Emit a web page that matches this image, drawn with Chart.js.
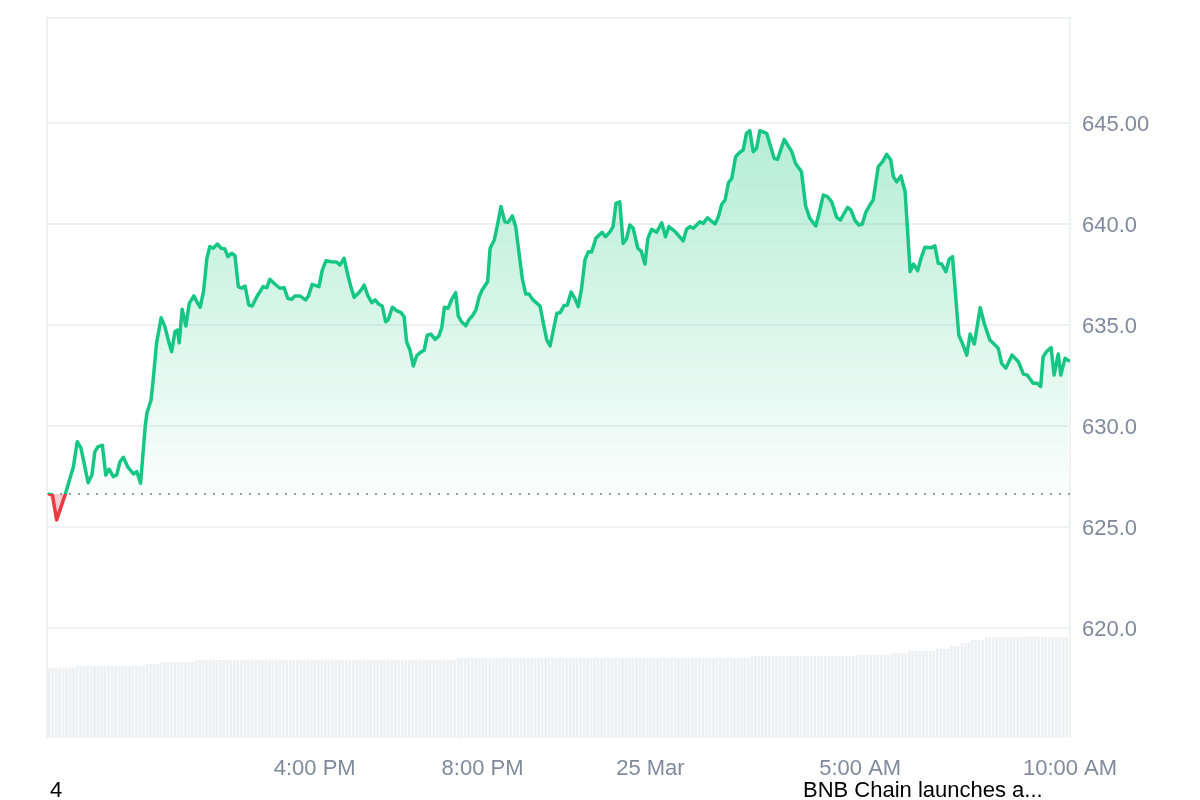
<!DOCTYPE html>
<html>
<head>
<meta charset="utf-8">
<title>BNB price 24h</title>
<script src="https://cdn.jsdelivr.net/npm/chart.js@4.4.1/dist/chart.umd.min.js"></script>
<style>
  html, body { margin: 0; padding: 0; background: #fff; }
  #wrap { position: relative; width: 1200px; height: 800px; }
  #priceChart { display: block; }
  .note { position: absolute; top: 779px; font: 22px/22px "Liberation Sans", Arial, sans-serif; color: #000; white-space: nowrap; }
</style>
</head>
<body>
<div id="wrap">
  <canvas id="priceChart" width="1200" height="800"></canvas>
  <div class="note" style="left:50px">4</div>
  <div class="note" style="left:803px">BNB Chain launches a...</div>
</div>
<script>
'use strict';

// hours after 00:00 on 24 Mar
var times = [
  9.67, 9.75, 9.85, 10.05, 10.25, 10.34, 10.43, 10.60, 10.69, 10.76, 10.84, 10.94,
  11.02, 11.10, 11.20, 11.28, 11.36, 11.44, 11.54, 11.68, 11.76, 11.85, 11.96, 12.00,
  12.10, 12.15, 12.23, 12.34, 12.43, 12.51, 12.59, 12.67, 12.73, 12.77, 12.84, 12.93,
  13.01, 13.12, 13.19, 13.27, 13.35, 13.43, 13.50, 13.58, 13.68, 13.77, 13.86, 13.93,
  14.02, 14.10, 14.18, 14.26, 14.34, 14.43, 14.51, 14.62, 14.77, 14.86, 14.93, 15.05,
  15.17, 15.27, 15.36, 15.45, 15.53, 15.65, 15.78, 15.85, 15.94, 16.10, 16.18, 16.27,
  16.39, 16.52, 16.60, 16.70, 16.78, 16.86, 16.94, 17.04, 17.12, 17.18, 17.26, 17.36,
  17.44, 17.52, 17.61, 17.69, 17.75, 17.85, 17.95, 18.06, 18.13, 18.19, 18.27, 18.35,
  18.43, 18.51, 18.61, 18.68, 18.77, 18.87, 18.96, 19.03, 19.09, 19.18, 19.26, 19.36,
  19.42, 19.50, 19.60, 19.68, 19.76, 19.84, 19.92, 19.99, 20.12, 20.18, 20.28, 20.37,
  20.44, 20.53, 20.61, 20.71, 20.79, 20.87, 20.95, 21.03, 21.11, 21.19, 21.37, 21.45,
  21.53, 21.61, 21.77, 21.85, 21.94, 22.02, 22.11, 22.20, 22.28, 22.36, 22.44, 22.52,
  22.60, 22.70, 22.85, 22.93, 23.04, 23.11, 23.18, 23.27, 23.35, 23.43, 23.51, 23.59,
  23.70, 23.78, 23.87, 23.94, 24.03, 24.15, 24.27, 24.36, 24.44, 24.59, 24.78, 24.86,
  24.94, 25.02, 25.18, 25.26, 25.36, 25.54, 25.62, 25.70, 25.78, 25.86, 25.94, 26.03,
  26.13, 26.21, 26.29, 26.37, 26.45, 26.53, 26.61, 26.77, 26.95, 27.03, 27.19, 27.37,
  27.46, 27.60, 27.70, 27.80, 27.94, 28.02, 28.12, 28.22, 28.32, 28.44, 28.53, 28.70,
  28.78, 28.88, 28.97, 29.05, 29.13, 29.23, 29.31, 29.43, 29.53, 29.63, 29.73, 29.79,
  29.87, 29.97, 30.07, 30.19, 30.27, 30.37, 30.45, 30.54, 30.70, 30.78, 30.86, 30.94,
  31.04, 31.12, 31.20, 31.35, 31.43, 31.54, 31.62, 31.72, 31.86, 31.96, 32.09, 32.19,
  32.29, 32.37, 32.47, 32.62, 32.77, 32.89, 32.98, 33.12, 33.22, 33.30, 33.36, 33.44,
  33.55, 33.62, 33.72, 33.78, 33.88, 33.97
];

var prices = [
  626.63, 626.57, 625.35, 626.58, 627.99, 629.22, 628.90, 627.19, 627.57, 628.73, 628.98, 629.04,
  627.57, 627.86, 627.49, 627.57, 628.23, 628.45, 627.99, 627.62, 627.74, 627.16, 629.97, 630.63,
  631.29, 632.28, 634.09, 635.36, 634.92, 634.26, 633.68, 634.67, 634.75, 634.12, 635.78, 634.95,
  636.07, 636.44, 636.15, 635.88, 636.65, 638.30, 638.88, 638.80, 639.01, 638.80, 638.76, 638.38,
  638.55, 638.43, 636.90, 636.82, 636.93, 635.99, 635.94, 636.40, 636.90, 636.85, 637.26, 637.03,
  636.82, 636.85, 636.32, 636.27, 636.44, 636.44, 636.24, 636.44, 637.01, 636.90, 637.72, 638.18,
  638.13, 638.12, 637.97, 638.30, 637.56, 636.90, 636.37, 636.57, 636.77, 636.98, 636.48, 636.10,
  636.24, 636.04, 635.94, 635.16, 635.25, 635.88, 635.71, 635.61, 635.41, 634.17, 633.76, 632.97,
  633.48, 633.63, 633.76, 634.50, 634.55, 634.29, 634.46, 634.89, 635.88, 635.83, 636.24, 636.60,
  635.45, 635.16, 634.96, 635.28, 635.46, 635.74, 636.40, 636.73, 637.14, 638.80, 639.21, 640.11,
  640.86, 640.11, 640.08, 640.40, 639.87, 638.55, 637.26, 636.53, 636.53, 636.27, 635.94, 635.08,
  634.26, 633.96, 635.58, 635.61, 635.96, 635.98, 636.63, 636.32, 635.91, 636.82, 638.22, 638.63,
  638.61, 639.29, 639.59, 639.37, 639.62, 639.87, 641.02, 641.10, 639.04, 639.26, 639.95, 639.79,
  638.80, 638.66, 638.02, 639.29, 639.74, 639.59, 640.06, 639.37, 639.87, 639.62, 639.16, 639.74,
  639.87, 639.79, 640.11, 640.03, 640.31, 640.00, 640.36, 640.97, 641.19, 642.04, 642.26, 643.33,
  643.55, 643.66, 644.49, 644.62, 643.58, 643.75, 644.62, 644.49, 643.25, 643.20, 644.19, 643.58,
  643.00, 642.59, 640.89, 640.28, 639.90, 640.53, 641.43, 641.35, 641.10, 640.33, 640.20, 640.83,
  640.69, 640.16, 639.95, 640.00, 640.56, 640.94, 641.19, 642.84, 643.08, 643.45, 643.17, 642.34,
  642.09, 642.38, 641.60, 637.64, 638.02, 637.69, 638.30, 638.85, 638.83, 638.92, 638.05, 638.02,
  637.64, 638.25, 638.38, 634.50, 634.12, 633.51, 634.55, 634.06, 635.86, 635.05, 634.26, 634.06,
  633.85, 633.10, 632.86, 633.51, 633.18, 632.57, 632.52, 632.11, 632.11, 631.95, 633.43, 633.68,
  633.88, 632.52, 633.56, 632.52, 633.35, 633.23
];

// 24h volume (billion USD), one bar every 5 minutes
var volStart = 9.67;
var volStep = 1 / 12;
var volumes = [
  0.70, 0.70, 0.70, 0.70, 0.70, 0.70, 0.70, 0.70, 0.72, 0.72, 0.72, 0.72,
  0.72, 0.72, 0.72, 0.72, 0.72, 0.72, 0.72, 0.72, 0.72, 0.72, 0.72, 0.72,
  0.72, 0.72, 0.72, 0.72, 0.74, 0.74, 0.74, 0.74, 0.76, 0.76, 0.76, 0.76,
  0.76, 0.76, 0.76, 0.76, 0.76, 0.76, 0.78, 0.78, 0.78, 0.78, 0.78, 0.78,
  0.78, 0.78, 0.78, 0.78, 0.78, 0.78, 0.78, 0.78, 0.78, 0.78, 0.78, 0.78,
  0.78, 0.78, 0.78, 0.78, 0.78, 0.78, 0.78, 0.78, 0.78, 0.78, 0.78, 0.78,
  0.78, 0.78, 0.78, 0.78, 0.78, 0.78, 0.78, 0.78, 0.78, 0.78, 0.78, 0.78,
  0.78, 0.78, 0.78, 0.78, 0.78, 0.78, 0.78, 0.78, 0.78, 0.78, 0.78, 0.78,
  0.78, 0.78, 0.78, 0.78, 0.78, 0.78, 0.78, 0.78, 0.78, 0.78, 0.78, 0.78,
  0.78, 0.78, 0.78, 0.78, 0.78, 0.78, 0.78, 0.78, 0.78, 0.80, 0.80, 0.80,
  0.80, 0.80, 0.80, 0.80, 0.80, 0.80, 0.80, 0.80, 0.80, 0.80, 0.80, 0.80,
  0.80, 0.80, 0.80, 0.80, 0.80, 0.80, 0.80, 0.80, 0.80, 0.80, 0.80, 0.80,
  0.80, 0.80, 0.80, 0.80, 0.80, 0.80, 0.80, 0.80, 0.80, 0.80, 0.80, 0.80,
  0.80, 0.80, 0.80, 0.80, 0.80, 0.80, 0.80, 0.80, 0.80, 0.80, 0.80, 0.80,
  0.80, 0.80, 0.80, 0.80, 0.80, 0.80, 0.80, 0.80, 0.80, 0.80, 0.80, 0.80,
  0.80, 0.80, 0.80, 0.80, 0.80, 0.80, 0.80, 0.80, 0.80, 0.80, 0.80, 0.80,
  0.80, 0.80, 0.80, 0.80, 0.80, 0.80, 0.80, 0.80, 0.80, 0.82, 0.82, 0.82,
  0.82, 0.82, 0.82, 0.82, 0.82, 0.82, 0.82, 0.82, 0.82, 0.82, 0.82, 0.82,
  0.82, 0.82, 0.82, 0.82, 0.82, 0.82, 0.82, 0.82, 0.82, 0.82, 0.82, 0.82,
  0.82, 0.82, 0.82, 0.83, 0.83, 0.83, 0.83, 0.83, 0.83, 0.83, 0.83, 0.83,
  0.83, 0.85, 0.85, 0.85, 0.85, 0.85, 0.87, 0.87, 0.87, 0.87, 0.87, 0.87,
  0.87, 0.87, 0.89, 0.89, 0.89, 0.89, 0.92, 0.92, 0.92, 0.95, 0.95, 0.95,
  0.98, 0.98, 0.98, 0.98, 1.01, 1.01, 1.01, 1.01, 1.01, 1.01, 1.01, 1.01,
  1.01, 1.01, 1.01, 1.01, 1.01, 1.01, 1.01, 1.01, 1.01, 1.01, 1.01, 1.01,
  1.01, 1.01, 1.01, 1.01
];

var xTickValues = [16, 20, 24, 29, 34];
var xTickLabels = ['4:00 PM', '8:00 PM', '25 Mar', '5:00 AM', '10:00 AM'];
var yTickValues = [620, 625, 630, 635, 640, 645];
var yTickLabels = ['620.0', '625.0', '630.0', '635.0', '640.0', '645.00'];

var GREEN = '#16c784';
var RED = '#ea3943';
var GRID = '#eff1f4';
var TEXT = '#808a9d';
var FONT = { family: '"Liberation Sans", Arial, sans-serif', size: 22 };

// line is green above the opening price, red below it
function lineColor(context) {
  var chart = context.chart;
  var area = chart.chartArea;
  var y = chart.scales.y;
  if (!area || !y) return GREEN;
  var base = y.getPixelForValue(prices[0]);
  var stop = Math.min(1, Math.max(0, (base - area.top) / (area.bottom - area.top)));
  var g = chart.ctx.createLinearGradient(0, area.top, 0, area.bottom);
  g.addColorStop(0, GREEN);
  g.addColorStop(stop, GREEN);
  g.addColorStop(stop, RED);
  g.addColorStop(1, RED);
  return g;
}

function fillColor(context) {
  var chart = context.chart;
  var y = chart.scales.y;
  if (!chart.chartArea || !y) return 'rgba(22,199,132,0.15)';
  var top = y.getPixelForValue(Math.max.apply(null, prices));
  var base = y.getPixelForValue(prices[0]);
  var g = chart.ctx.createLinearGradient(0, top, 0, base);
  g.addColorStop(0, 'rgba(22,199,132,0.32)');
  g.addColorStop(1, 'rgba(22,199,132,0.02)');
  return g;
}

function noPadding(scale) {
  scale.paddingTop = 0;
  scale.paddingBottom = 0;
  scale.paddingLeft = 0;
  scale.paddingRight = 0;
}

var framePlugin = {
  id: 'frame',
  beforeDatasetsDraw: function (chart) {
    var a = chart.chartArea;
    var c = chart.ctx;
    c.save();
    c.strokeStyle = GRID;
    c.lineWidth = 2;
    c.beginPath();
    c.moveTo(a.left, a.bottom);
    c.lineTo(a.left, a.top);
    c.lineTo(a.right, a.top);
    c.lineTo(a.right, a.bottom);
    c.stroke();

    // dotted line at the opening price
    var y = Math.round(chart.scales.y.getPixelForValue(prices[0]));
    c.strokeStyle = '#9b9b9b';
    c.setLineDash([2, 7]);
    c.beginPath();
    c.moveTo(a.left + 4, y);
    c.lineTo(a.right, y);
    c.stroke();
    c.restore();
  }
};

new Chart(document.getElementById('priceChart'), {
  type: 'line',
  data: {
    datasets: [
      {
        type: 'line',
        data: times.map(function (t, i) { return { x: t, y: prices[i] }; }),
        yAxisID: 'y',
        borderColor: lineColor,
        backgroundColor: fillColor,
        borderWidth: 3.5,
        borderJoinStyle: 'round',
        borderCapStyle: 'round',
        pointRadius: 0,
        tension: 0,
        fill: { target: { value: prices[0] }, below: 'rgba(234,57,67,0.25)' },
        order: 1
      },
      {
        type: 'bar',
        data: volumes.map(function (v, i) { return { x: volStart + i * volStep, y: v }; }),
        yAxisID: 'y2',
        backgroundColor: '#eef1f4',
        barPercentage: 0.8,
        categoryPercentage: 1,
        order: 2
      }
    ]
  },
  options: {
    responsive: false,
    animation: false,
    events: [],
    layout: { padding: { left: 47, top: 18, right: 0, bottom: 0 } },
    plugins: {
      legend: { display: false },
      tooltip: { enabled: false }
    },
    scales: {
      x: {
        type: 'linear',
        min: 9.62,
        max: 34,
        offset: false,
        grid: { display: false, drawTicks: false },
        border: { display: false },
        afterBuildTicks: function (s) {
          s.ticks = xTickValues.map(function (v) { return { value: v }; });
        },
        afterFit: function (s) { s.height = 62; noPadding(s); },
        ticks: {
          autoSkip: false,
          maxRotation: 0,
          padding: 18,
          color: TEXT,
          font: FONT,
          callback: function (v) {
            var i = xTickValues.indexOf(v);
            return i < 0 ? '' : xTickLabels[i];
          }
        }
      },
      y: {
        position: 'right',
        min: 614.55,
        max: 650.2,
        grid: { color: GRID, lineWidth: 2, drawTicks: false },
        border: { display: false },
        afterBuildTicks: function (s) {
          s.ticks = yTickValues.map(function (v) { return { value: v }; });
        },
        afterFit: function (s) { s.width = 130; noPadding(s); },
        ticks: {
          padding: 12,
          labelOffset: 2,
          color: TEXT,
          font: FONT,
          callback: function (v) {
            var i = yTickValues.indexOf(v);
            return i < 0 ? '' : yTickLabels[i];
          }
        }
      },
      y2: {
        display: false,
        min: 0,
        max: 7.2,
        afterFit: noPadding
      }
    }
  },
  plugins: [framePlugin]
});
</script>
</body>
</html>
